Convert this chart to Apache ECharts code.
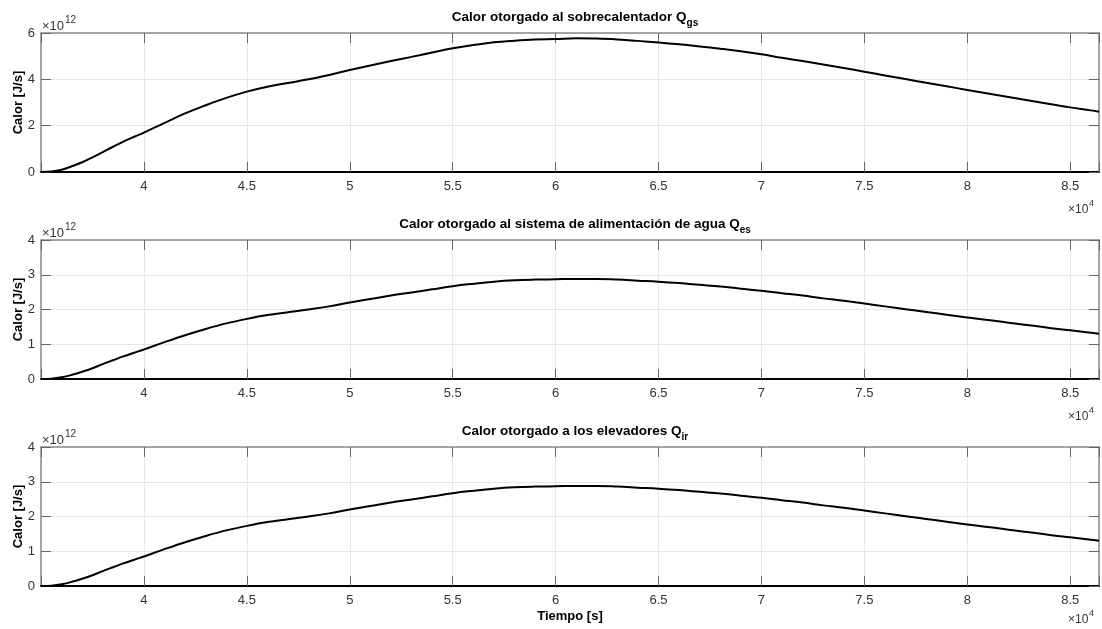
<!DOCTYPE html>
<html lang="es">
<head>
    <meta charset="utf-8">
    <title>Calor otorgado</title>
    <script src="https://cdn.jsdelivr.net/npm/echarts@6/dist/echarts.min.js"></script>
    <style>
        html, body { margin: 0; padding: 0; background: #fff; }
        #chart { width: 1102px; height: 629px; }
    </style>
</head>
<body>
<div id="chart"></div>
<script type="text/javascript">
    // tiempo [s]
    var tiempo = [35000, 35500, 36000, 36500, 37000, 37500, 38000, 38500, 39000, 39500,
        40000, 41000, 42000, 43000, 44000, 45000, 46000, 47000, 48000, 49000,
        50000, 51000, 52000, 53000, 54000, 55000, 56000, 57000, 58000, 59000,
        60000, 61000, 62000, 63000, 64000, 65000, 66000, 67000, 68000, 69000,
        70000, 71000, 72000, 73000, 74000, 75000, 76000, 77000, 78000, 79000,
        80000, 81000, 82000, 83000, 84000, 85000, 86000, 86400];
    // calor en unidades de 1e12 J/s
    var qgs = [0, 0.02, 0.10, 0.25, 0.42, 0.63, 0.86, 1.09, 1.31, 1.51,
        1.70, 2.12, 2.53, 2.88, 3.20, 3.47, 3.68, 3.84, 4.00, 4.19,
        4.40, 4.60, 4.79, 4.97, 5.16, 5.34, 5.48, 5.60, 5.67, 5.72,
        5.74, 5.77, 5.76, 5.72, 5.66, 5.59, 5.51, 5.42, 5.32, 5.21,
        5.08, 4.93, 4.79, 4.64, 4.49, 4.33, 4.17, 4.01, 3.85, 3.70,
        3.54, 3.39, 3.24, 3.09, 2.94, 2.79, 2.66, 2.60];
    var qes = [0, 0.01, 0.05, 0.12, 0.21, 0.31, 0.43, 0.54, 0.65, 0.75,
        0.85, 1.06, 1.26, 1.44, 1.60, 1.73, 1.84, 1.92, 2.00, 2.09,
        2.20, 2.30, 2.40, 2.49, 2.58, 2.67, 2.74, 2.80, 2.84, 2.86,
        2.87, 2.88, 2.88, 2.86, 2.83, 2.80, 2.76, 2.71, 2.66, 2.60,
        2.54, 2.47, 2.40, 2.32, 2.25, 2.17, 2.09, 2.01, 1.93, 1.85,
        1.77, 1.70, 1.62, 1.55, 1.47, 1.40, 1.33, 1.30];
    var qir = [0, 0.01, 0.05, 0.12, 0.21, 0.31, 0.43, 0.54, 0.65, 0.75,
        0.85, 1.06, 1.26, 1.44, 1.60, 1.73, 1.84, 1.92, 2.00, 2.09,
        2.20, 2.30, 2.40, 2.49, 2.58, 2.67, 2.74, 2.80, 2.84, 2.86,
        2.87, 2.88, 2.88, 2.86, 2.83, 2.80, 2.76, 2.71, 2.66, 2.60,
        2.54, 2.47, 2.40, 2.32, 2.25, 2.17, 2.09, 2.01, 1.93, 1.85,
        1.77, 1.70, 1.62, 1.55, 1.47, 1.40, 1.33, 1.30];

    var titulos = ['Calor otorgado al sobrecalentador Q', 'Calor otorgado al sistema de alimentación de agua Q', 'Calor otorgado a los elevadores Q'];
    var subindices = ['gs', 'es', 'ir'];
    var yMax = [6, 4, 4];
    var yInterval = [2, 1, 1];
    var series_data = [qgs, qes, qir];

    var fuente = 'Liberation Sans, Arial, Helvetica, sans-serif';
    var tops = [33, 240, 447];
    var alto = 139;
    var izq = 41;
    var ancho = 1058;

    var grids = [], xAxes = [], yAxes = [], titles = [], series = [], graphics = [];

    for (var i = 0; i < 3; i++) {
        grids.push({ left: izq, top: tops[i], width: ancho, height: alto, containLabel: false, outerBoundsMode: 'none' });

        titles.push({
            text: '{t|' + titulos[i] + '}{s|' + subindices[i] + '}',
            left: izq + ancho / 2,
            top: tops[i] - 32,
            textAlign: 'center',
            textStyle: {
                rich: {
                    t: { fontFamily: fuente, fontSize: 13.5, fontWeight: 'bold', color: '#000' },
                    s: { fontFamily: fuente, fontSize: 10, fontWeight: 'bold', color: '#000', padding: [12, 0, 0, 0] }
                }
            }
        });

        // eje x inferior
        xAxes.push({
            gridIndex: i, type: 'value', min: 35000, max: 86400, interval: 5000,
            axisLine: { show: true, onZero: false, lineStyle: { color: '#000', width: 2 } },
            axisTick: { show: true, inside: true, length: 10, lineStyle: { color: '#666' } },
            splitLine: { show: true, lineStyle: { color: '#e6e6e6', width: 1 } },
            axisLabel: {
                margin: 8, fontFamily: fuente, fontSize: 13, color: '#333',
                formatter: function (v) {
                    if (v <= 35000 || v % 5000 !== 0) return '';
                    return String(v / 10000);
                }
            }
        });
        // eje x superior (caja)
        xAxes.push({
            gridIndex: i, type: 'value', position: 'top', min: 35000, max: 86400, interval: 5000,
            axisLine: { show: true, onZero: false, lineStyle: { color: '#8a8a8a', width: 1.5 } },
            axisTick: { show: true, inside: true, length: 10, lineStyle: { color: '#666' } },
            splitLine: { show: false },
            axisLabel: { show: false }
        });

        yAxes.push({
            gridIndex: i, type: 'value', min: 0, max: yMax[i], interval: yInterval[i],
            axisLine: { show: true, lineStyle: { color: '#8a8a8a', width: 1.5 } },
            axisTick: { show: true, inside: true, length: 10, lineStyle: { color: '#666' } },
            splitLine: { show: true, lineStyle: { color: '#e6e6e6', width: 1 } },
            axisLabel: { margin: 6, fontFamily: fuente, fontSize: 13, color: '#333' },
            name: 'Calor [J/s]',
            nameLocation: 'middle',
            nameGap: 16.5,
            nameMoveOverlap: false,
            nameTextStyle: { fontFamily: fuente, fontSize: 13, fontWeight: 'bold', color: '#000' }
        });
        yAxes.push({
            gridIndex: i, type: 'value', position: 'right', min: 0, max: yMax[i], interval: yInterval[i],
            axisLine: { show: true, lineStyle: { color: '#8a8a8a', width: 1.5 } },
            axisTick: { show: true, inside: true, length: 10, lineStyle: { color: '#666' } },
            splitLine: { show: false },
            axisLabel: { show: false }
        });

        var puntos = [];
        for (var k = 0; k < tiempo.length; k++) {
            puntos.push([tiempo[k], series_data[i][k]]);
        }
        series.push({
            type: 'line',
            xAxisIndex: 2 * i,
            yAxisIndex: 2 * i,
            data: puntos,
            showSymbol: false,
            smooth: 0.4,
            lineStyle: { color: '#000', width: 2 },
            z: 5
        });

        // exponente eje y
        graphics.push({ type: 'text', x: izq + 1, y: tops[i] - 7,
            style: { text: '×10', fontFamily: fuente, fontSize: 13, fill: '#333', verticalAlign: 'middle' } });
        graphics.push({ type: 'text', x: izq + 24, y: tops[i] - 13,
            style: { text: '12', fontFamily: fuente, fontSize: 10, fill: '#333', verticalAlign: 'middle' } });
        // exponente eje x
        var yExp = tops[i] + alto + (i === 2 ? 34 : 38);
        graphics.push({ type: 'text', x: 1068, y: yExp,
            style: { text: '×10', fontFamily: fuente, fontSize: 12, fill: '#333', verticalAlign: 'middle' } });
        graphics.push({ type: 'text', x: 1089, y: yExp - 6,
            style: { text: '4', fontFamily: fuente, fontSize: 9, fill: '#333', verticalAlign: 'middle' } });
    }

    // etiqueta del eje x del ultimo panel
    xAxes[4].name = 'Tiempo [s]';
    xAxes[4].nameLocation = 'middle';
    xAxes[4].nameGap = 24;
    xAxes[4].nameMoveOverlap = false;
    xAxes[4].nameTextStyle = { fontFamily: fuente, fontSize: 13, fontWeight: 'bold', color: '#000' };

    var chart = echarts.init(document.getElementById('chart'));
    chart.setOption({
        animation: false,
        backgroundColor: '#fff',
        title: titles,
        grid: grids,
        xAxis: xAxes,
        yAxis: yAxes,
        series: series,
        graphic: graphics
    });
</script>
</body>
</html>
